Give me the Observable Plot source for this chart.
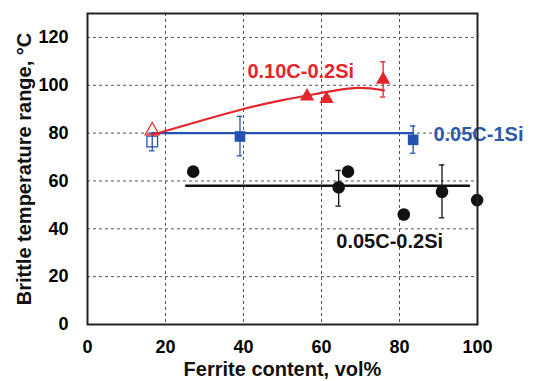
<!DOCTYPE html>
<html>
<head>
<meta charset="utf-8">
<script src="https://cdn.jsdelivr.net/npm/d3@7"></script>
<script src="https://cdn.jsdelivr.net/npm/@observablehq/plot@0.6"></script>
<style>
  html, body { margin: 0; padding: 0; background: #fff; }
  svg { display: block; }
</style>
</head>
<body>
<div id="chart"></div>
<script>
// ---- data ----
const xTicks = [0, 20, 40, 60, 80, 100];
const yTicks = [0, 20, 40, 60, 80, 100, 120];
const xTitle = "Ferrite content, vol%";
const yTitle = "Brittle temperature range, °C";

// 0.10C-0.2Si (red triangles)
const redX = [56.3, 61.3, 75.8];
const redY = [95.4, 94.3, 102.4];
const redOpen = {x: 16.6, y: 81.0};
const redErrLo = [null, null, 95.1];
const redErrHi = [null, null, 109.8];
const redCurveX = [16.6, 30, 40, 50, 60, 69, 76];
const redCurveY = [79.3, 85.6, 90.1, 93.8, 96.8, 98.9, 97.9];

// 0.05C-1Si (blue squares)
const blueX = [39.1, 83.5];
const blueY = [78.6, 77.2];
const blueErrLo = [70.5, 71.6];
const blueErrHi = [87.0, 83.0];
const blueOpen = {x: 16.6, y: 76.5, lo: 72.6, hi: 80.0};
const blueLineX = [16.6, 83.5];
const blueLineY = [80, 80];

// 0.05C-0.2Si (black circles)
const blackX = [27.1, 64.4, 66.8, 81.1, 90.9, 99.9];
const blackY = [63.9, 57.4, 63.9, 46.0, 55.5, 52.0];
const blackErrLo = [null, 49.5, null, null, 44.6, null];
const blackErrHi = [null, 64.4, null, null, 66.7, null];
const blackLineX = [25.3, 97.8];
const blackLineY = [58, 58];

const seriesLabels = [
  {text: "0.10C-0.2Si", x: 41.0, y: 105.6, color: "#e3262b"},
  {text: "0.05C-1Si", x: 88.7, y: 79.3, color: "#2d5aa8"},
  {text: "0.05C-0.2Si", x: 63.8, y: 34.8, color: "#111"}
];

// ---- build tables ----
const red = redX.map((x, i) => ({x, y: redY[i], lo: redErrLo[i], hi: redErrHi[i]}));
const redCurve = redCurveX.map((x, i) => ({x, y: redCurveY[i]}));
const blue = blueX.map((x, i) => ({x, y: blueY[i], lo: blueErrLo[i], hi: blueErrHi[i]}));
const blueLine = blueLineX.map((x, i) => ({x, y: blueLineY[i]}));
const black = blackX.map((x, i) => ({x, y: blackY[i], lo: blackErrLo[i], hi: blackErrHi[i]}));
const blackLine = blackLineX.map((x, i) => ({x, y: blackLineY[i]}));
const withErr = arr => arr.filter(d => d.lo != null);

const RED = "#e3262b", BLUE = "#2452b0", BLK = "#111";
const FONT = "'Liberation Sans', Arial, sans-serif";

function errMarks(data, color) {
  const d = withErr(data);
  return [
    Plot.ruleX(d, {x: "x", y1: "lo", y2: "hi", stroke: color, strokeWidth: 1.3}),
    Plot.ruleY(d, {y: "lo", x1: v => v.x - 0.7, x2: v => v.x + 0.7, stroke: color, strokeWidth: 1.3}),
    Plot.ruleY(d, {y: "hi", x1: v => v.x - 0.7, x2: v => v.x + 0.7, stroke: color, strokeWidth: 1.3})
  ];
}

const chart = Plot.plot({
  width: 536,
  height: 381,
  marginLeft: 87,
  marginRight: 59,
  marginTop: 13,
  marginBottom: 57,
  style: {fontFamily: FONT, background: "#fff"},
  x: {domain: [0, 100]},
  y: {domain: [0, 130]},
  marks: [
    Plot.gridX(xTicks.slice(1, -1), {stroke: "#555", strokeOpacity: 1, strokeDasharray: "3,3", strokeWidth: 1}),
    Plot.gridY(yTicks.slice(1), {stroke: "#555", strokeOpacity: 1, strokeDasharray: "3,3", strokeWidth: 1}),
    Plot.axisX({ticks: xTicks, tickSize: 0, tickPadding: 16, fontSize: 18, fontWeight: "bold", label: null}),
    Plot.axisY({ticks: yTicks, tickSize: 0, tickPadding: 19, fontSize: 18, fontWeight: "bold", label: null}),
    Plot.text([xTitle], {frameAnchor: "bottom", textAnchor: "middle", lineAnchor: "middle", dy: 45, text: d => d,
      fontSize: 20, fontWeight: "bold", fill: "#111"}),
    Plot.text([yTitle], {frameAnchor: "left", textAnchor: "middle", lineAnchor: "middle", rotate: -90, dx: -63, text: d => d,
      fontSize: 20, fontWeight: "bold", fill: "#111"}),
    // black series
    Plot.line(blackLine, {x: "x", y: "y", stroke: BLK, strokeWidth: 2.5}),
    ...errMarks(black, BLK),
    Plot.dot(black, {x: "x", y: "y", r: 6.3, fill: BLK, stroke: "none"}),
    // blue series
    Plot.line(blueLine, {x: "x", y: "y", stroke: BLUE, strokeWidth: 2.2}),
    ...errMarks(blue, BLUE),
    ...errMarks([blueOpen], BLUE),
    Plot.dot(blue, {x: "x", y: "y", symbol: "square", r: 6, fill: BLUE, stroke: "none"}),
    Plot.dot([blueOpen], {x: "x", y: "y", symbol: "square", r: 6, fill: "none", stroke: BLUE, strokeWidth: 1.3}),
    // red series
    Plot.line(redCurve, {x: "x", y: "y", stroke: RED, strokeWidth: 2.2, curve: "natural"}),
    ...errMarks(red, RED),
    Plot.dot(red, {x: "x", y: "y", symbol: "triangle", r: 5.3, fill: RED, stroke: "none"}),
    Plot.dot([redOpen], {x: "x", y: "y", symbol: "triangle", r: 5.3, fill: "none", stroke: RED, strokeWidth: 1.2}),
    // series labels
    Plot.text(seriesLabels, {x: "x", y: "y", text: "text", fill: "color", textAnchor: "start",
      fontSize: 20, fontWeight: "bold", fontFamily: FONT}),
    Plot.frame({stroke: "#222", strokeWidth: 2})
  ]
});
document.getElementById("chart").appendChild(chart);
</script>
</body>
</html>
